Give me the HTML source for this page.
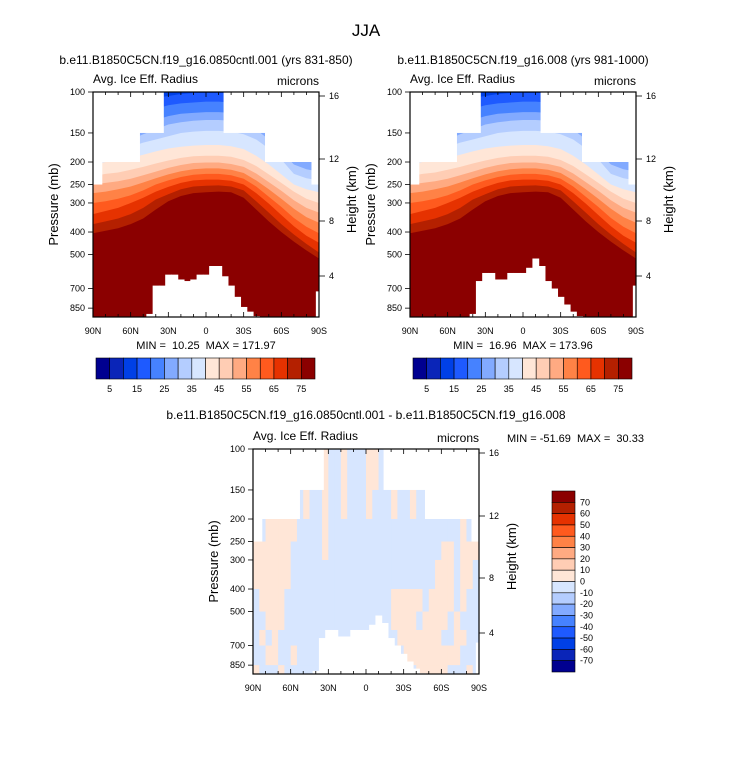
<!DOCTYPE html>
<html><head><meta charset="utf-8"><style>
body{margin:0;background:#fff}
svg{display:block;font-family:"Liberation Sans",sans-serif}
.pre{white-space:pre}
</style></head><body>
<svg id="s" width="733" height="770" viewBox="0 0 733 770" xmlns="http://www.w3.org/2000/svg">
<text x="366" y="36" font-size="17" text-anchor="middle">JJA</text>
<text x="206" y="64" font-size="12" text-anchor="middle">b.e11.B1850C5CN.f19_g16.0850cntl.001 (yrs 831-850)</text>
<text x="523" y="64" font-size="12" text-anchor="middle">b.e11.B1850C5CN.f19_g16.008 (yrs 981-1000)</text>
<text x="366" y="419" font-size="12" text-anchor="middle">b.e11.B1850C5CN.f19_g16.0850cntl.001 - b.e11.B1850C5CN.f19_g16.008</text>
<text class="pre" x="206" y="349" font-size="11" text-anchor="middle">MIN =  10.25  MAX = 171.97</text>
<text class="pre" x="523" y="349" font-size="11" text-anchor="middle">MIN =  16.96  MAX = 173.96</text>
<text class="pre" x="507" y="442" font-size="11">MIN = -51.69  MAX =  30.33</text>
</svg>
<script>
// ---- data ----
const contourLats = [90,80,70,60,50,40,30,20,10,0,-10,-20,-30,-40,-50,-60,-70,-80,-90];
const contourLevels = [75,70,65,60,55,50,45,40,35,30,25,20,15,10];
const p75 = [405,395,385,370,350,320,295,280,272,270,268,270,285,320,360,400,440,480,520];
const p70 = [370,360,350,335,315,290,275,262,255,253,252,255,265,295,330,370,410,450,490];
const p65 = [335,325,315,300,285,268,256,246,240,238,238,241,250,272,302,338,378,415,445];
const p60 = [300,295,288,278,265,250,240,232,227,225,225,228,236,255,282,312,348,380,405];
const p55 = [272,268,262,255,245,235,226,219,215,213,213,216,223,240,262,288,318,345,365];
const p50 = [250,246,242,236,228,220,212,206,202,201,201,204,210,224,244,266,292,315,330];
const p45 = [230,225,222,216,210,203,197,192,189,188,188,190,196,208,226,246,268,288,300];
const p40 = [205,200,198,192,186,180,175,172,170,169,169,171,176,188,205,226,250,262,270];
const p35 = [190,185,180,172,165,160,155,150,148,147,147,148,152,160,175,195,225,235,240];
const p30 = [175,170,165,160,152,145,138,135,133,132,132,133,136,145,160,180,205,215,220];
const p25 = [165,160,155,148,140,132,127,124,123,122,122,123,126,132,145,160,185,195,200];
const p20 = [150,148,143,135,125,118,114,112,111,110,110,111,113,118,128,140,160,170,180];
const p15 = [130,128,124,118,110,106,104,102,101,101,101,101,102,105,112,120,140,150,160];
const p10 = [110,108,105,102,100,98,96,96,96,96,96,96,96,97,100,104,112,115,120];
const contourP = [p75,p70,p65,p60,p55,p50,p45,p40,p35,p30,p25,p20,p15,p10];
const maskEdges = [90,83,53,34,-14,-47,-84,-90];
const maskTops = [250,200,150,100,150,200,250];
const groundLats = [90,85,80,75,70,65,60,55,50,45,40,35,30,25,20,15,10,5,0,-5,-10,-15,-20,-25,-30,-35,-40,-45,-50,-55,-60,-65,-70,-75,-80,-85,-90];
const groundLeft = [1000,1000,1000,1000,1000,1000,1000,1000,1000,900,680,680,610,610,640,650,640,610,610,560,560,620,680,760,840,880,920,1000,1000,1000,1000,1000,1000,1000,1000,1000,720];
const groundRight = [1000,1000,1000,1000,1000,1000,1000,1000,1000,1000,900,650,600,600,640,640,600,600,600,570,520,560,650,700,760,820,880,920,1000,1000,1000,1000,1000,1000,1000,1000,680];
const diffPEdges = [100,125,150,175,200,250,300,400,500,600,700,850,930];
const diffRows = [
"-----------+--+---++----------------",
"-----------+--+---++----------------",
"--------+--+--+---+---+--+----------",
"--------+--+--+---+---+--+----------",
"--+++++----+---------------------+--",
"++++++-----+------------------++-+++",
"++++++-----------------------+++-++-",
"-++++-----------------+++++-++++-+--",
"--+++-----------------++++-++++-+---",
"-+-+-------------------+++++++--++--",
"--++--+-----------------+++++++++---",
"+---+---------------------+++++---+-"];
const palette = ["#000090","#0a25b8","#0040e6","#1e5aff","#4682ff","#82aaff","#b4cdff","#d7e6ff","#ffe6d7","#ffcdb4","#ffaa82","#ff8246","#ff5a1e","#e63200","#b42000","#8b0000"];
const cbLabels = ["5","15","25","35","45","55","65","75"];
const diffLabels = ["70","60","50","40","30","20","10","0","-10","-20","-30","-40","-50","-60","-70"];
const pTicks = [100,150,200,250,300,400,500,700,850];
const hTicks = [16,12,8,4];
const latTicks = [90,60,30,0,-30,-60,-90];
const latNames = ["90N","60N","30N","0","30S","60S","90S"];

// ---- drawing ----
const NS="http://www.w3.org/2000/svg";
const svg=document.getElementById('s');
const W=226,H=225,K=101;
let clipN=0;
function mk(tag,attrs,parent){const e=document.createElementNS(NS,tag);for(const k in attrs)e.setAttribute(k,attrs[k]);(parent||svg).appendChild(e);return e;}
function axes(fx,fy){return {x:lat=>fx+(90-lat)/180*W, y:p=>fy+K*Math.log(p/100)};}
function clipGroup(fx,fy,name){
  const id='clip'+(clipN++);
  const cp=mk('clipPath',{id:id});
  mk('rect',{x:fx,y:fy,width:W,height:H},cp);
  const g=mk('g',{'clip-path':`url(#${id})`});
  
  
  return g;
}

function drawMasks(g,ax,fx,fy,ground){
  for(let i=0;i<maskTops.length;i++){
    const x0=ax.x(maskEdges[i]),x1=ax.x(maskEdges[i+1]);
    const r=mk('rect',{x:x0,y:fy-1,width:x1-x0+0.5,height:ax.y(maskTops[i])-fy+1,fill:'#fff'},g);
    
    
  }
  for(let i=0;i<groundLats.length;i++){
    const gp=ground[i]; if(gp>=930) continue;
    const x0=Math.max(fx,ax.x(groundLats[i]+2.5)),x1=Math.min(fx+W,ax.x(groundLats[i]-2.5));
    const y0=ax.y(gp);
    const r=mk('rect',{x:x0,y:y0,width:x1-x0+0.5,height:fy+H-y0,fill:'#fff'},g);
    
    
  }
}

function frame(fx,fy,id){
  const ax=axes(fx,fy);
  const f=mk('rect',{x:fx,y:fy,width:W,height:H,fill:'none',stroke:'#000','stroke-width':1.2});
  
  
  for(let l=90;l>=-90;l-=10){const x=ax.x(l);const len=(l%30===0)?5:3;
    mk('line',{x1:x,y1:fy+H,x2:x,y2:fy+H-len,stroke:'#000','stroke-width':0.8});
    mk('line',{x1:x,y1:fy,x2:x,y2:fy+len,stroke:'#000','stroke-width':0.8});}
  latTicks.forEach((l,i)=>{const t=mk('text',{x:ax.x(l),y:fy+H+17,'font-size':9,'text-anchor':'middle'});t.textContent=latNames[i];
    
    });
  pTicks.forEach(p=>{const y=ax.y(p);mk('line',{x1:fx-5,y1:y,x2:fx,y2:y,stroke:'#000','stroke-width':0.8});
    const t=mk('text',{x:fx-8,y:y+3,'font-size':9,'text-anchor':'end'});t.textContent=p;
    
    });
  const hy=[4,67,129,184];
  hTicks.forEach((h,i)=>{const y=fy+hy[i];mk('line',{x1:fx+W,y1:y,x2:fx+W+6,y2:y,stroke:'#000','stroke-width':0.8});
    const t=mk('text',{x:fx+W+10,y:y+3,'font-size':9});t.textContent=h;
    
    });
  let t=mk('text',{x:fx,y:fy-9,'font-size':12});t.textContent='Avg. Ice Eff. Radius';
  
  
  t=mk('text',{x:fx+W,y:fy-7,'font-size':12,'text-anchor':'end'});t.textContent='microns';
  
  
  t=mk('text',{x:0,y:0,'font-size':13,'text-anchor':'middle',transform:`translate(${fx-35},${fy+H/2}) rotate(-90)`});t.textContent='Pressure (mb)';
  
  
  t=mk('text',{x:0,y:0,'font-size':13,'text-anchor':'middle',transform:`translate(${fx+W+37},${fy+H/2-5}) rotate(-90)`});t.textContent='Height (km)';
  
  
}

function contourPanel(fx,fy,ground,id){
  const ax=axes(fx,fy);
  const g=clipGroup(fx,fy,id+'-contour-plot');
  const bg=mk('rect',{x:fx,y:fy,width:W,height:H,fill:palette[15]},g);
  
  
  contourLevels.forEach((lev,k)=>{
    const arr=contourP[k];
    let d=`M${fx},${fy-50}`;
    contourLats.forEach((la,i)=>{d+=` L${ax.x(la).toFixed(1)},${ax.y(arr[i]).toFixed(1)}`;});
    d+=` L${fx+W},${fy-50} Z`;
    const p=mk('path',{d:d,fill:palette[14-k]},g);
    
    
  });
  drawMasks(g,ax,fx,fy,ground);
  frame(fx,fy,id);
}

function diffPanel(fx,fy){
  const ax=axes(fx,fy);
  const g=clipGroup(fx,fy,'diff-contour-plot');
  diffRows.forEach((row,r)=>{
    const y0=ax.y(diffPEdges[r]),y1=Math.min(fy+H,ax.y(diffPEdges[r+1]));
    for(let c=0;c<row.length;c++){
      const x0=ax.x(90-5*c),x1=ax.x(85-5*c);
      const cell=mk('rect',{x:x0,y:y0,width:x1-x0+0.4,height:y1-y0+0.4,fill:row[c]==='+'?palette[8]:palette[7]},g);
      
      
    }
  });
  drawMasks(g,ax,fx,fy,groundRight);
  frame(fx,fy,'diff-panel');
}

function hColorbar(x0,y0,id){
  const w=219/16;
  const g=mk('g',{});
  
  
  palette.forEach((c,i)=>{const r=mk('rect',{x:x0+i*w,y:y0,width:w,height:21,fill:c,stroke:'#000','stroke-width':0.6},g);
    
    });
  cbLabels.forEach((l,i)=>{const t=mk('text',{x:x0+(2*i+1)*w,y:y0+34,'font-size':9,'text-anchor':'middle'},g);t.textContent=l;
    
    });
}
function vColorbar(x0,y0){
  const h=181/16;
  const g=mk('g',{});
  
  
  for(let i=0;i<16;i++){const r=mk('rect',{x:x0,y:y0+i*h,width:23,height:h,fill:palette[15-i],stroke:'#000','stroke-width':0.6},g);
    
    }
  diffLabels.forEach((l,i)=>{const t=mk('text',{x:x0+28,y:y0+(i+1)*h+3,'font-size':9},g);t.textContent=l;
    
    });
}

contourPanel(93,92,groundLeft,'left-panel');
contourPanel(410,92,groundRight,'right-panel');
diffPanel(253,449);
hColorbar(96,358,'left-colorbar');
hColorbar(413,358,'right-colorbar');
vColorbar(552,491);
</script>
</body></html>
